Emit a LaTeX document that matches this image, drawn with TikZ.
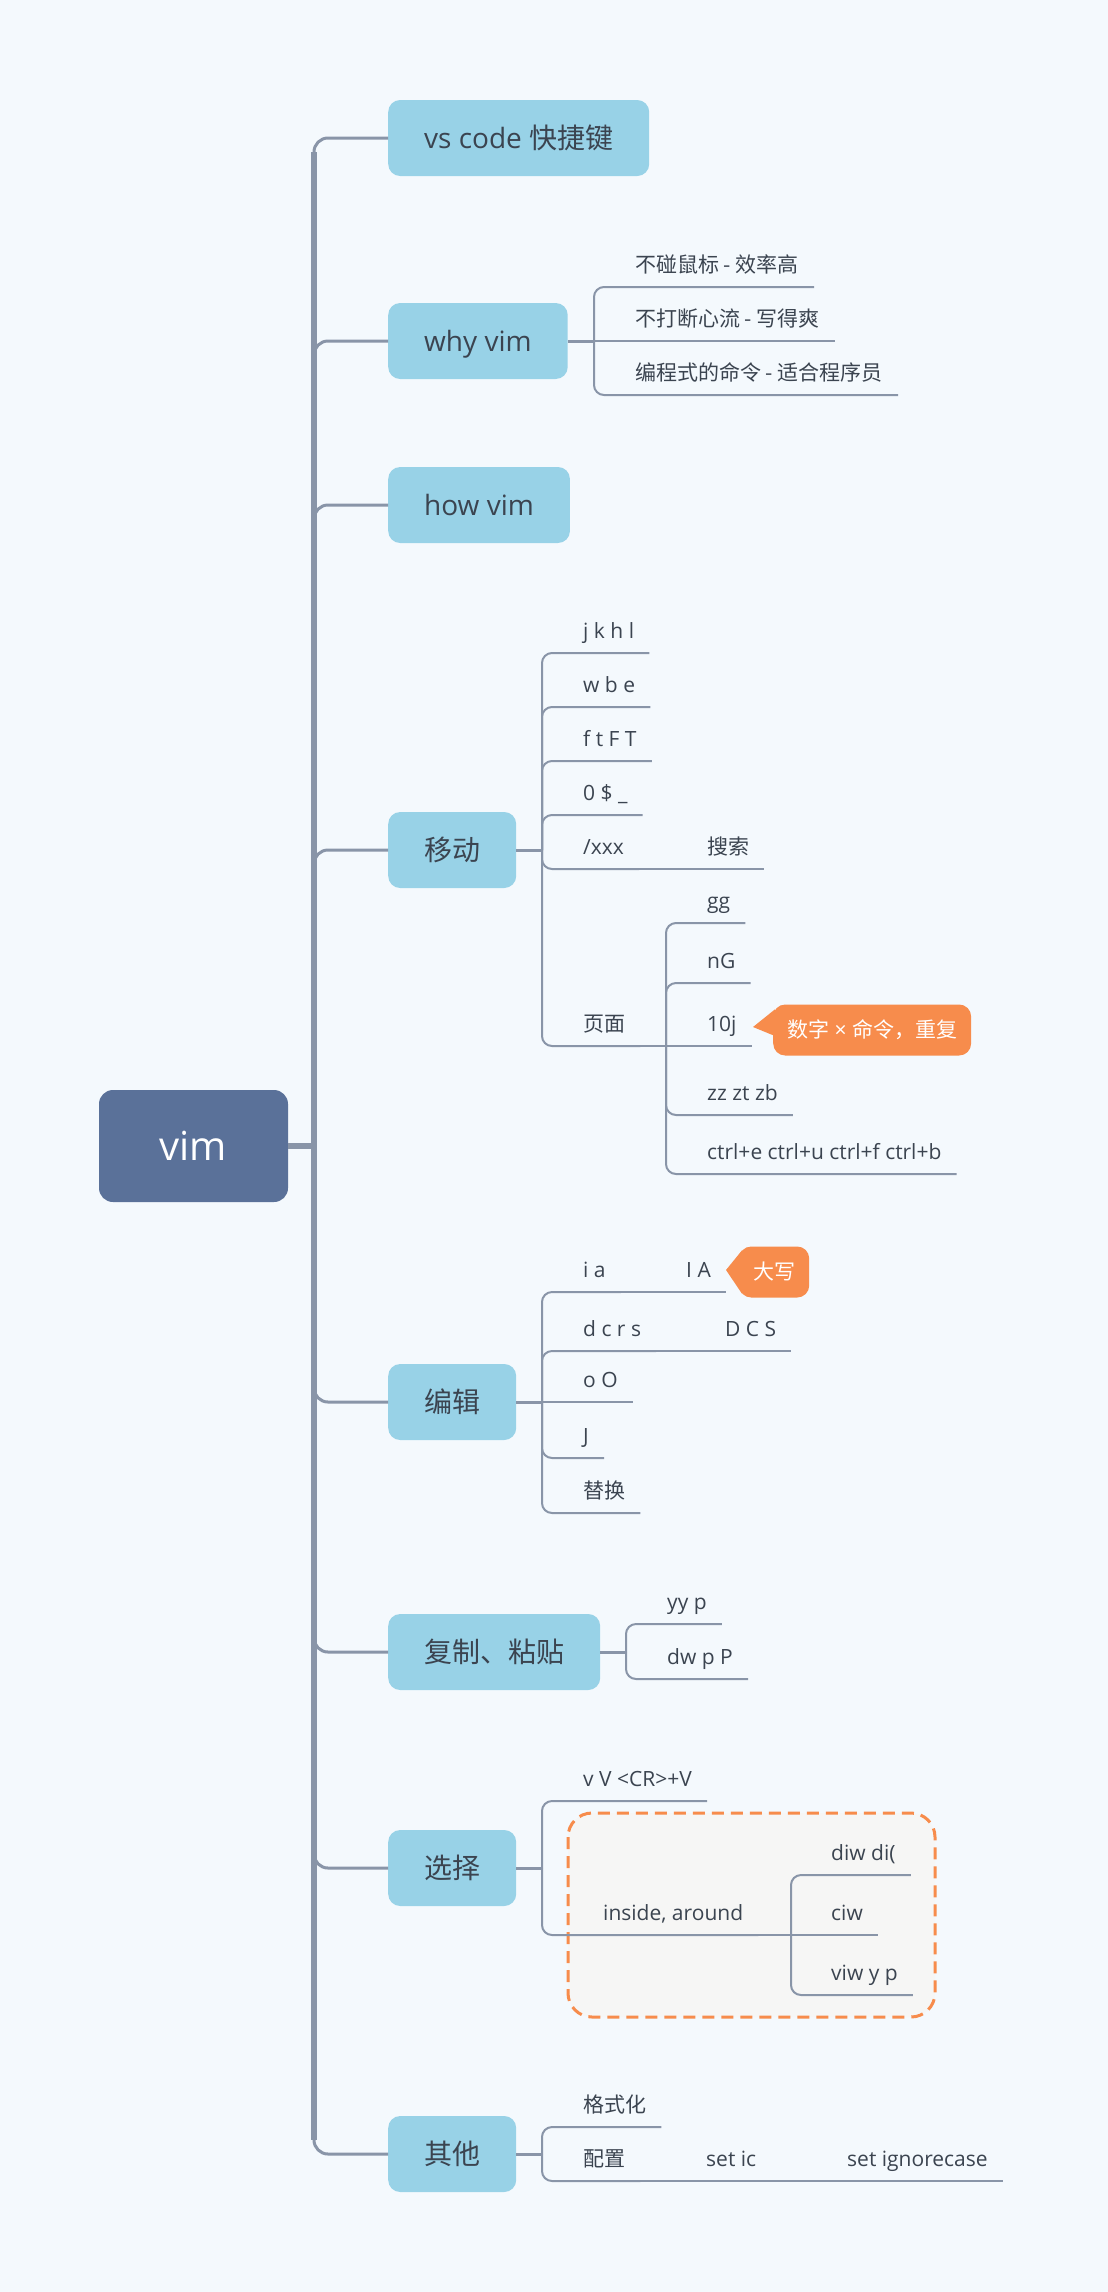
\documentclass[tikz,border=0pt]{standalone}
\usepackage{fontspec}
\setmainfont{Open Sans}
\newfontfamily\cjk{Noto Sans CJK SC}
\usetikzlibrary{calc}

\definecolor{paper}{HTML}{F4F9FD}
\definecolor{sky}{HTML}{98D2E7}
\definecolor{slate}{HTML}{5A7199}
\definecolor{ink}{HTML}{3B4450}
\definecolor{wire}{HTML}{8995A8}
\definecolor{tangerine}{HTML}{F78C4C}
\definecolor{mist}{HTML}{F6F6F5}

\newcommand\leaffont{\fontsize{21}{25}\selectfont}
\newcommand\limbfont{\fontsize{28}{34}\selectfont}
\newcommand\rootfont{\fontsize{40}{48}\selectfont}

\tikzset{
  root/.style={fill=slate, text=white, rounded corners=14pt, minimum width=189pt, minimum height=112pt, inner sep=0pt, text height=34pt, text depth=5pt, font=\rootfont},
  topic/.style={anchor=west, fill=sky, text=ink, rounded corners=12pt, minimum height=76pt, inner xsep=36pt, inner ysep=0pt, text height=26pt, text depth=6pt, font=\limbfont},
  leaf/.style={anchor=south west, text=ink, inner xsep=15pt, inner ysep=0pt, minimum height=44pt, text height=20pt, text depth=4.5pt, font=\leaffont},
  callout/.style={anchor=west, fill=tangerine, text=white, rounded corners=12pt, minimum height=51pt, inner xsep=14pt, inner ysep=0pt, text height=18pt, text depth=3pt, font=\leaffont},
  trunk/.style={draw=wire, line width=5.5pt},
  limb/.style={draw=wire, line width=3pt, rounded corners=14pt},
  stem/.style={draw=wire, line width=3pt},
  twig/.style={draw=wire, line width=2pt, rounded corners=10pt},
  boundary/.style={draw=tangerine, fill=mist, line width=3pt, dash pattern=on 12pt off 7pt, rounded corners=24pt},
}

\begin{document}
\begin{tikzpicture}[x=1pt, y=-1pt]
\fill[paper] (0,0) rectangle (1108,2292);
\useasboundingbox (0,0) rectangle (1108,2292);

% root and main topics
\node[root] (vim) at (193.5,1146) {vim};
\coordinate (hub) at (314,1146);

\node[topic] (vscode) at (388,138) {vs code {\cjk 快捷键}};
\node[topic] (why) at (388,341) {why vim};
\node[topic] (how) at (388,505) {how vim};
\node[topic] (move) at (388,850) {\cjk 移动};
\node[topic] (edit) at (388,1402) {\cjk 编辑};
\node[topic] (copy) at (388,1652) {\cjk 复制、粘贴};
\node[topic] (select) at (388,1868) {\cjk 选择};
\node[topic] (other) at (388,2154) {\cjk 其他};

\draw[trunk] (vim.east) -- (hub);
\draw[trunk] ($(hub |- vscode.west)+(0,14)$) -- ($(hub |- other.west)+(0,-14)$);
\draw[limb] (hub) |- (vscode.west);
\draw[limb] (hub) |- (why.west);
\draw[limb] (hub) |- (how.west);
\draw[limb] (hub) |- (move.west);
\draw[limb] (hub) |- (edit.west);
\draw[limb] (hub) |- (copy.west);
\draw[limb] (hub) |- (select.west);
\draw[limb] (hub) |- (other.west);

% why vim
\coordinate (whyb) at (594,341);
\node[leaf] (why1) at (620,287) {\cjk 不碰鼠标 - 效率高};
\node[leaf] (why2) at (620,341) {\cjk 不打断心流 - 写得爽};
\node[leaf] (why3) at (620,395) {\cjk 编程式的命令 - 适合程序员};
\draw[stem] (why.east) -- (whyb);
\draw[twig] (whyb) |- (why1.south west) -- (why1.south east);
\draw[twig] (whyb) -- (why2.south west) -- (why2.south east);
\draw[twig] (whyb) |- (why3.south west) -- (why3.south east);

% move
\coordinate (moveb) at (542,850);
\node[leaf] (m1) at (568,653) {j k h l};
\node[leaf] (m2) at (568,707) {w b e};
\node[leaf] (m3) at (568,761) {f t F T};
\node[leaf] (m4) at (568,815) {0 \$ \_};
\node[leaf] (m5) at (568,869) {/xxx};
\node[leaf] (m5a) at (692,869) {\cjk 搜索};
\node[leaf] (m6) at (568,1046) {\cjk 页面};
\draw[stem] (move.east) -- (moveb);
\draw[twig] (moveb) |- (m1.south west) -- (m1.south east);
\draw[twig] (moveb) |- (m2.south west) -- (m2.south east);
\draw[twig] (moveb) |- (m3.south west) -- (m3.south east);
\draw[twig] (moveb) |- (m4.south west) -- (m4.south east);
\draw[twig] (moveb) |- (m5.south west) -- (m5.south east);
\draw[twig] (m5.south east) -- (m5a.south west) -- (m5a.south east);
\draw[twig] (moveb) |- (m6.south west) -- (m6.south east);

\coordinate (pageb) at (666,1046);
\node[leaf] (p1) at (692,923) {gg};
\node[leaf] (p2) at (692,983) {nG};
\node[leaf] (p3) at (692,1046) {10j};
\node[leaf] (p4) at (692,1115) {zz zt zb};
\node[leaf] (p5) at (692,1174) {ctrl+e ctrl+u ctrl+f ctrl+b};
\draw[twig] (m6.south east) -- (pageb);
\draw[twig] (pageb) |- (p1.south west) -- (p1.south east);
\draw[twig] (pageb) |- (p2.south west) -- (p2.south east);
\draw[twig] (pageb) -- (p3.south west) -- (p3.south east);
\draw[twig] (pageb) |- (p4.south west) -- (p4.south east);
\draw[twig] (pageb) |- (p5.south west) -- (p5.south east);

\node[callout] (rep) at (773,1030) {{\cjk 数字} × {\cjk 命令，重复}};
\fill[tangerine] ([xshift=-20pt,yshift=3pt]rep.west) -- ([xshift=2pt,yshift=-5pt]rep.north west) -- ([xshift=2pt,yshift=-6pt]rep.west) -- cycle;

% edit
\coordinate (editb) at (542,1402);
\node[leaf] (e1) at (568,1292) {i a};
\node[leaf] (e1a) at (671,1292) {I A};
\node[leaf] (e2) at (568,1351) {d c r s};
\node[leaf] (e2a) at (710,1351) {D C S};
\node[leaf] (e3) at (568,1402) {o O};
\node[leaf] (e4) at (568,1458) {J};
\node[leaf] (e5) at (568,1513) {\cjk 替换};
\draw[stem] (edit.east) -- (editb);
\draw[twig] (editb) |- (e1.south west) -- (e1.south east);
\draw[twig] (e1.south east) -- (e1a.south west) -- (e1a.south east);
\draw[twig] (editb) |- (e2.south west) -- (e2.south east);
\draw[twig] (e2.south east) -- (e2a.south west) -- (e2a.south east);
\draw[twig] (editb) -- (e3.south west) -- (e3.south east);
\draw[twig] (editb) |- (e4.south west) -- (e4.south east);
\draw[twig] (editb) |- (e5.south west) -- (e5.south east);

\node[callout] (caps) at (739,1272) {\cjk 大写};
\fill[tangerine] ([xshift=-13pt,yshift=2pt]caps.west) -- ([xshift=3pt,yshift=-4pt]caps.north west) -- ([xshift=3pt,yshift=4pt]caps.south west) -- cycle;

% copy, paste
\coordinate (copyb) at (626,1652);
\node[leaf] (c1) at (652,1624) {yy p};
\node[leaf] (c2) at (652,1679) {dw p P};
\draw[stem] (copy.east) -- (copyb);
\draw[twig] (copyb) |- (c1.south west) -- (c1.south east);
\draw[twig] (copyb) |- (c2.south west) -- (c2.south east);

% select
\draw[boundary] (568,1813) rectangle (935,2017);
\coordinate (selectb) at (542,1868);
\node[leaf] (s1) at (568,1801) {v V <CR>+V};
\node[leaf] (s2) at (588,1935) {inside, around};
\draw[stem] (select.east) -- (selectb);
\draw[twig] (selectb) |- (s1.south west) -- (s1.south east);
\draw[twig] (selectb) |- (s2.south west) -- (s2.south east);

\coordinate (aroundb) at (791,1935);
\node[leaf] (t1) at (816,1875) {diw di(};
\node[leaf] (t2) at (816,1935) {ciw};
\node[leaf] (t3) at (816,1995) {viw y p};
\draw[twig] (s2.south east) -- (aroundb);
\draw[twig] (aroundb) |- (t1.south west) -- (t1.south east);
\draw[twig] (aroundb) -- (t2.south west) -- (t2.south east);
\draw[twig] (aroundb) |- (t3.south west) -- (t3.south east);

% other
\coordinate (otherb) at (542,2154);
\node[leaf] (o1) at (568,2127) {\cjk 格式化};
\node[leaf] (o2) at (568,2181) {\cjk 配置};
\node[leaf] (o2a) at (691,2181) {set ic};
\node[leaf] (o2b) at (832,2181) {set ignorecase};
\draw[stem] (other.east) -- (otherb);
\draw[twig] (otherb) |- (o1.south west) -- (o1.south east);
\draw[twig] (otherb) |- (o2.south west) -- (o2.south east);
\draw[twig] (o2.south east) -- (o2a.south west) -- (o2a.south east);
\draw[twig] (o2a.south east) -- (o2b.south west) -- (o2b.south east);
\end{tikzpicture}
\end{document}
